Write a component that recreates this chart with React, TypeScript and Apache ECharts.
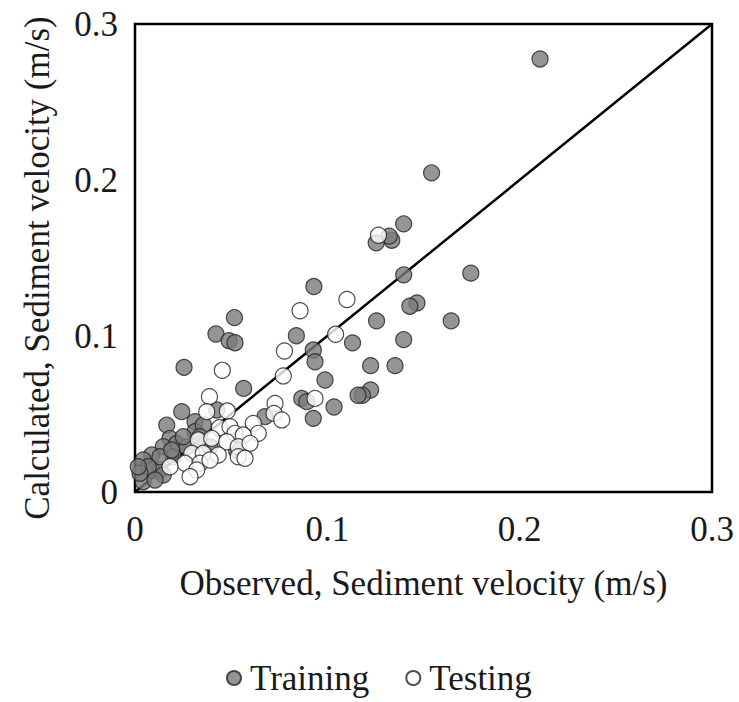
import React, { useEffect, useRef } from "react";
import * as echarts from "echarts";

const seriesNames = ["Training", "Testing"];
const axisTicks = [0, 0.1, 0.2, 0.3];

const trainingData: number[][] = [
  [0.2106, 0.2776], [0.1542, 0.2046], [0.1397, 0.1719], [0.1335, 0.1614], [0.1322, 0.164],
  [0.1254, 0.1597], [0.1397, 0.1392], [0.1746, 0.1403], [0.093, 0.1317], [0.1466, 0.1212],
  [0.1429, 0.1191], [0.1256, 0.1097], [0.1644, 0.1097], [0.0517, 0.1118], [0.0421, 0.1013],
  [0.0489, 0.097], [0.052, 0.0957], [0.0839, 0.1002], [0.1131, 0.0956], [0.1397, 0.0977],
  [0.0927, 0.091], [0.0936, 0.0835], [0.1225, 0.081], [0.1352, 0.081], [0.0255, 0.0799],
  [0.0988, 0.0718], [0.0565, 0.0664], [0.1225, 0.0654], [0.1182, 0.062], [0.116, 0.062],
  [0.0867, 0.06], [0.0893, 0.0579], [0.1035, 0.0545], [0.0927, 0.0472], [0.0676, 0.0483],
  [0.0243, 0.0515], [0.0165, 0.0429], [0.0312, 0.0451], [0.0312, 0.0387], [0.0425, 0.0526],
  [0.0355, 0.043], [0.0182, 0.0344], [0.0217, 0.0312], [0.0147, 0.029], [0.0087, 0.0237],
  [0.0043, 0.0205], [0.0087, 0.0141], [0.0043, 0.0066], [0.013, 0.0141], [0.0199, 0.0226],
  [0.0269, 0.029], [0.0251, 0.0354], [0.013, 0.0226], [0.0069, 0.0162], [0.0147, 0.0109],
  [0.0191, 0.0269], [0.039, 0.029], [0.0026, 0.012], [0.0017, 0.0162], [0.0104, 0.0077],
  [0.0338, 0.0354], [0.0528, 0.0267],
];

const testingData: number[][] = [
  [0.1266, 0.1646], [0.1102, 0.1234], [0.0858, 0.1162], [0.1043, 0.1011], [0.0777, 0.0904],
  [0.0454, 0.078], [0.0771, 0.0744], [0.0936, 0.06], [0.0387, 0.0611], [0.0728, 0.0568],
  [0.0723, 0.0504], [0.0763, 0.0462], [0.0615, 0.044], [0.0641, 0.0376], [0.048, 0.0519],
  [0.0373, 0.0515], [0.0439, 0.0412], [0.0494, 0.0419], [0.052, 0.0376], [0.0563, 0.0365],
  [0.0329, 0.0333], [0.0399, 0.0344], [0.0477, 0.0322], [0.0537, 0.029], [0.0598, 0.0312],
  [0.0295, 0.0248], [0.0355, 0.0248], [0.0433, 0.0237], [0.0537, 0.0226], [0.0572, 0.0216],
  [0.026, 0.0184], [0.0182, 0.0162], [0.0338, 0.0184], [0.039, 0.0205], [0.0321, 0.0141],
  [0.0286, 0.0098],
];

const lineData: number[][] = [
  [0, 0],
  [0.3, 0.3],
];

const FONT = "'Liberation Serif', 'Times New Roman', serif";

export default function App() {
  const ref = useRef<HTMLDivElement>(null);
  useEffect(() => {
    if (!ref.current) return;
    const chart = echarts.init(ref.current, null, { renderer: "svg" });
    const axisCommon = {
      type: "value" as const,
      min: axisTicks[0],
      max: axisTicks[axisTicks.length - 1],
      interval: 0.1,
      axisLine: { show: false },
      axisTick: { show: false },
      splitLine: { show: false },
      nameLocation: "middle" as const,
      nameTextStyle: { fontFamily: FONT, fontSize: 35, color: "#1a1a1a" },
      axisLabel: {
        fontFamily: FONT,
        fontSize: 35,
        color: "#1a1a1a",
        formatter: (v: number) => (v === 0 ? "0" : String(Math.round(v * 10) / 10)),
      },
    };
    chart.setOption({
      animation: false,
      backgroundColor: "#ffffff",
      grid: {
        left: 135,
        top: 24,
        width: 577,
        height: 468,
        show: true,
        borderColor: "#000",
        borderWidth: 2.5,
        backgroundColor: "transparent",
      },
      xAxis: {
        ...axisCommon,
        name: "Observed, Sediment velocity (m/s)",
        nameGap: 74,
        axisLabel: { ...axisCommon.axisLabel, margin: 20 },
      },
      yAxis: {
        ...axisCommon,
        name: "Calculated, Sediment velocity (m/s)",
        nameGap: 80,
        nameTextStyle: { ...axisCommon.nameTextStyle, padding: [0, 20, 0, 0] },
        axisLabel: { ...axisCommon.axisLabel, margin: 17 },
      },
      legend: {
        data: seriesNames,
        left: 221,
        top: 655,
        icon: "circle",
        itemWidth: 14,
        itemHeight: 14,
        itemGap: 36,
        textStyle: {
          fontFamily: FONT,
          fontSize: 35,
          lineHeight: 36,
          color: "#1a1a1a",
          padding: [0, 0, 0, 4],
        },
      },
      series: [
        {
          type: "line",
          data: lineData,
          showSymbol: false,
          symbol: "none",
          lineStyle: { color: "#000", width: 2.5 },
          silent: true,
          z: 1,
        },
        {
          name: seriesNames[0],
          type: "scatter",
          data: trainingData,
          symbolSize: 16,
          itemStyle: { color: "#7b7b7b", borderColor: "#222", borderWidth: 1.2 },
          z: 2,
        },
        {
          name: seriesNames[1],
          type: "scatter",
          data: testingData,
          symbolSize: 16,
          itemStyle: { color: "#ffffff", borderColor: "#222", borderWidth: 1.2 },
          z: 3,
        },
      ],
    });
    return () => chart.dispose();
  }, []);
  return (
    <div
      ref={ref}
      style={{ position: "absolute", left: 0, top: 0, width: 739, height: 702 }}
    />
  );
}
